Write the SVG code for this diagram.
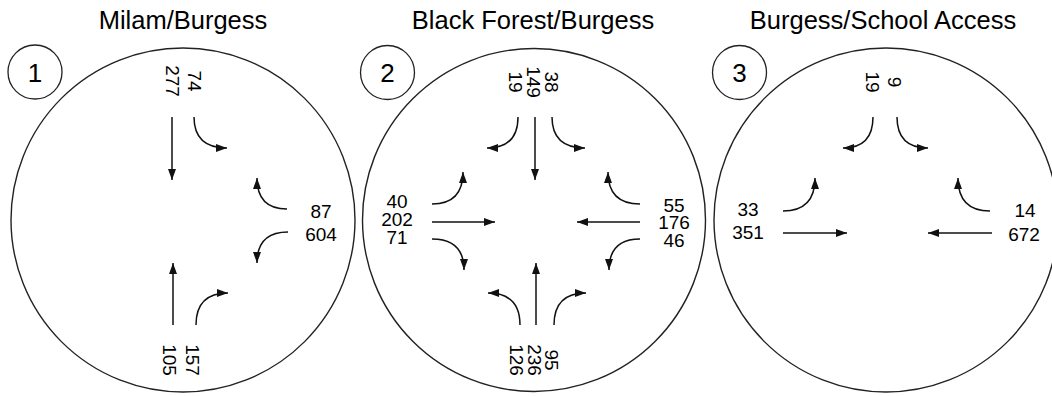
<svg xmlns="http://www.w3.org/2000/svg" width="1052" height="396" viewBox="0 0 1052 396">
<style>
.bg{fill:#ffffff}
.ring{fill:none;stroke:#222;stroke-width:1.4}
.badge{fill:#fff;stroke:#222;stroke-width:1.3}
.title{font-family:"Liberation Sans",Arial,sans-serif;font-size:25.5px;fill:#000;text-anchor:middle}
.num{font-family:"Liberation Sans",Arial,sans-serif;font-size:26px;fill:#000;text-anchor:middle}
.v{font-family:"Liberation Sans",Arial,sans-serif;font-size:19px;fill:#000;text-anchor:middle}
.mv{fill:none;stroke:#111;stroke-width:1.5;marker-end:url(#ah)}
</style>
<defs>
<marker id="ah" markerUnits="userSpaceOnUse" markerWidth="12" markerHeight="9" refX="11" refY="4" orient="auto">
<path d="M0,0 L11,4 L0,8 z" fill="#111"/>
</marker>
</defs>
<rect class="bg" x="0" y="0" width="1052" height="396"/>

<g id="intersection-1">
<text class="title" x="183" y="29">Milam/Burgess</text>
<circle class="ring" cx="183" cy="220" r="172"/>
<circle class="badge" cx="35" cy="72" r="27"/>
<text class="num" x="35" y="81.5">1</text>
<text class="v" transform="translate(195,81) rotate(90)" y="6.8">74</text>
<text class="v" transform="translate(172.5,81) rotate(90)" y="6.8">277</text>
<text class="v" x="321" y="217.5">87</text>
<text class="v" x="321" y="241">604</text>
<text class="v" transform="translate(193,360) rotate(90)" y="6.8">157</text>
<text class="v" transform="translate(170,360) rotate(90)" y="6.8">105</text>
</g>

<g id="intersection-2">
<text class="title" x="533" y="29">Black Forest/Burgess</text>
<circle class="ring" cx="534" cy="220" r="171.5"/>
<circle class="badge" cx="387.5" cy="72.5" r="27"/>
<text class="num" x="387.5" y="82">2</text>
<text class="v" transform="translate(552,82) rotate(90)" y="6.8">38</text>
<text class="v" transform="translate(534,82) rotate(90)" y="6.8">149</text>
<text class="v" transform="translate(516,82) rotate(90)" y="6.8">19</text>
<text class="v" x="397" y="208">40</text>
<text class="v" x="397" y="226">202</text>
<text class="v" x="397" y="243.5">71</text>
<text class="v" x="674" y="211.5">55</text>
<text class="v" x="674" y="229">176</text>
<text class="v" x="674" y="246.5">46</text>
<text class="v" transform="translate(551.5,360) rotate(90)" y="6.8">95</text>
<text class="v" transform="translate(534.5,360) rotate(90)" y="6.8">236</text>
<text class="v" transform="translate(516.5,360) rotate(90)" y="6.8">126</text>
</g>

<g id="intersection-3">
<text class="title" x="883" y="29">Burgess/School Access</text>
<circle class="ring" cx="886" cy="220" r="172"/>
<circle class="badge" cx="739.5" cy="72.5" r="27"/>
<text class="num" x="739.5" y="82">3</text>
<text class="v" transform="translate(895,82) rotate(90)" y="6.8">9</text>
<text class="v" transform="translate(873,82) rotate(90)" y="6.8">19</text>
<text class="v" x="748" y="215.5">33</text>
<text class="v" x="748" y="239">351</text>
<text class="v" x="1025" y="217">14</text>
<text class="v" x="1024" y="241">672</text>
</g>

<g id="connectors">
<g id="movements-1">
<path class="mv" d="M172,117 L172,180"/>
<path class="mv" d="M194,117 Q194,148 227,148"/>
<path class="mv" d="M287,209 Q257,209 257,178"/>
<path class="mv" d="M288,232 Q257,232 257,263"/>
<path class="mv" d="M173,325 L173,263"/>
<path class="mv" d="M196,325 Q196,293 228,293"/>
</g>
<g id="movements-2">
<path class="mv" d="M518,117 Q518,148 487,148"/>
<path class="mv" d="M535,117 L535,180"/>
<path class="mv" d="M552,117 Q552,148 585,148"/>
<path class="mv" d="M432,204 Q463,204 463,172"/>
<path class="mv" d="M432,222 L495,222"/>
<path class="mv" d="M432,239 Q464,239 464,270"/>
<path class="mv" d="M640,204 Q608,204 608,172"/>
<path class="mv" d="M640,222 L577,222"/>
<path class="mv" d="M640,239 Q609,239 609,270"/>
<path class="mv" d="M520,325 Q520,293 488,293"/>
<path class="mv" d="M536,325 L536,263"/>
<path class="mv" d="M554,325 Q554,293 586,293"/>
</g>
<g id="movements-3">
<path class="mv" d="M873,117 Q873,148 843,148"/>
<path class="mv" d="M897,117 Q897,148 928,148"/>
<path class="mv" d="M783,211 Q815,211 815,178"/>
<path class="mv" d="M783,233 L847,233"/>
<path class="mv" d="M990,211 Q958,211 958,178"/>
<path class="mv" d="M992,233 L928,233"/>
</g>
</g>
</svg>
